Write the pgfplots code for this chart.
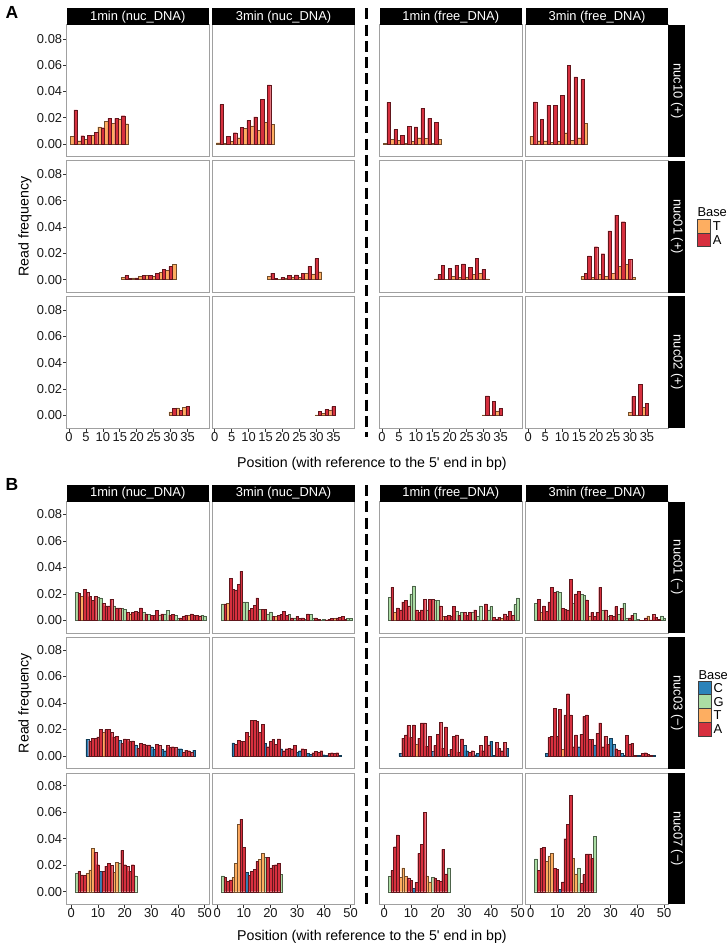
\documentclass[border=0pt]{standalone}
\usepackage{fontspec}
\setmainfont{Liberation Sans}
\usepackage{pgfplots}
\usepackage{pgfplotstable}
\pgfplotsset{compat=1.18}

\definecolor{baseC}{HTML}{2B83BA}
\definecolor{baseG}{HTML}{ABDDA4}
\definecolor{baseT}{HTML}{FDAE61}
\definecolor{baseA}{HTML}{D7303F}
\definecolor{framegray}{HTML}{A0A0A0}

% b: 1 = C, 2 = G, 3 = T, 4 = A
% v1 = 1min (nuc_DNA), v2 = 3min (nuc_DNA), v3 = 1min (free_DNA), v4 = 3min (free_DNA)
\pgfplotstableread{
p b v1 v2 v3 v4
1 3 0.0056 0.0010 0.0003 0.0060
2 4 0.0260 0.0300 0.0316 0.0320
3 3 0.0025 0.0005 0.0035 0.0025
4 4 0.0063 0.0060 0.0110 0.0187
5 3 0.0035 0.0018 0.0028 0.0025
6 4 0.0066 0.0086 0.0066 0.0296
7 3 0.0066 0.0048 0.0003 0.0013
8 4 0.0090 0.0127 0.0134 0.0296
9 3 0.0130 0.0120 0.0020 0.0023
10 4 0.0124 0.0180 0.0130 0.0370
11 3 0.0170 0.0137 0.0048 0.0086
12 4 0.0195 0.0207 0.0270 0.0600
13 3 0.0157 0.0104 0.0043 0.0030
14 4 0.0195 0.0340 0.0195 0.0510
15 3 0.0190 0.0165 0.0003 0.0048
16 4 0.0215 0.0450 0.0165 0.0490
17 3 0.0154 0.0150 0.0035 0.0157
}\aOne
\pgfplotstableread{
p b v1 v2 v3 v4
16 3 0.0015 0.0026 0.0005 0.0023
17 4 0.0030 0.0050 0.0040 0.0050
18 4 0.0010 0.0010 0.0108 0.0180
19 3 0.0013 0.0003 0.0003 0.0018
20 4 0.0013 0.0015 0.0087 0.0250
21 3 0.0023 0.0013 0.0023 0.0038
22 4 0.0030 0.0030 0.0110 0.0197
23 3 0.0030 0.0020 0.0015 0.0026
24 4 0.0030 0.0036 0.0120 0.0370
25 3 0.0023 0.0015 0.0020 0.0046
26 4 0.0050 0.0050 0.0092 0.0490
27 3 0.0056 0.0046 0.0038 0.0100
28 4 0.0077 0.0100 0.0160 0.0440
29 3 0.0072 0.0044 0.0050 0.0115
30 4 0.0100 0.0160 0.0077 0.0156
31 3 0.0115 0.0060 0.0005 0.0018
}\aTwo
\pgfplotstableread{
p b v1 v2 v3 v4
30 3 0.0025 0.0003 0.0003 0.0023
31 4 0.0050 0.0030 0.0147 0.0144
32 3 0.0056 0.0015 0.0003 0.0003
33 4 0.0038 0.0043 0.0104 0.0235
34 3 0.0060 0.0040 0.0033 0.0060
35 4 0.0068 0.0066 0.0050 0.0090
}\aThree

\pgfplotstableread{
p b v1 v2 v3 v4
2 2 0.0210 0.0125 0.0175 0.0130
3 4 0.0205 0.0125 0.0250 0.0160
4 3 0.0180 0.0130 0.0060 0.0060
5 4 0.0235 0.0320 0.0095 0.0110
6 4 0.0210 0.0235 0.0080 0.0070
7 4 0.0180 0.0230 0.0140 0.0140
8 4 0.0150 0.0270 0.0150 0.0250
9 4 0.0180 0.0370 0.0110 0.0210
10 2 0.0175 0.0140 0.0200 0.0220
11 2 0.0170 0.0140 0.0260 0.0210
12 4 0.0130 0.0075 0.0080 0.0090
13 4 0.0110 0.0090 0.0060 0.0085
14 4 0.0110 0.0115 0.0080 0.0080
15 4 0.0160 0.0170 0.0160 0.0310
16 2 0.0110 0.0085 0.0080 0.0130
17 4 0.0095 0.0085 0.0160 0.0200
18 4 0.0095 0.0085 0.0160 0.0220
19 2 0.0090 0.0050 0.0150 0.0195
20 2 0.0085 0.0065 0.0150 0.0190
21 4 0.0060 0.0030 0.0110 0.0155
22 3 0.0050 0.0030 0.0030 0.0035
23 4 0.0060 0.0040 0.0030 0.0060
24 4 0.0070 0.0045 0.0040 0.0030
25 4 0.0060 0.0070 0.0035 0.0060
26 4 0.0095 0.0040 0.0105 0.0250
27 2 0.0060 0.0045 0.0070 0.0075
28 4 0.0050 0.0020 0.0040 0.0080
29 2 0.0045 0.0020 0.0060 0.0030
30 4 0.0040 0.0030 0.0060 0.0040
31 4 0.0040 0.0015 0.0040 0.0030
32 4 0.0075 0.0020 0.0060 0.0105
33 2 0.0040 0.0010 0.0060 0.0045
34 4 0.0050 0.0050 0.0080 0.0090
35 2 0.0050 0.0045 0.0030 0.0130
36 2 0.0075 0.0015 0.0110 0.0015
37 4 0.0040 0.0020 0.0005 0.0020
38 4 0.0045 0.0010 0.0125 0.0040
39 2 0.0040 0.0005 0.0080 0.0055
40 2 0.0015 0.0010 0.0105 0.0010
41 4 0.0020 0.0005 0.0025 0.0003
42 4 0.0030 0.0010 0.0010 0.0003
43 4 0.0040 0.0015 0.0025 0.0020
44 3 0.0040 0.0015 0.0015 0.0035
45 4 0.0050 0.0020 0.0050 0.0005
46 4 0.0040 0.0025 0.0030 0.0045
47 4 0.0040 0.0030 0.0070 0.0025
48 4 0.0035 0.0010 0.0040 0.0010
49 2 0.0040 0.0015 0.0120 0.0035
50 2 0.0035 0.0015 0.0170 0.0020
}\bOne
\pgfplotstableread{
p b v1 v2 v3 v4
6 1 0.0127 0.0100 0.0020 0.0020
7 4 0.0115 0.0090 0.0135 0.0140
8 4 0.0135 0.0120 0.0160 0.0150
9 4 0.0135 0.0110 0.0230 0.0360
10 4 0.0145 0.0110 0.0140 0.0150
11 4 0.0200 0.0180 0.0235 0.0350
12 3 0.0180 0.0150 0.0090 0.0050
13 4 0.0200 0.0270 0.0135 0.0310
14 4 0.0200 0.0270 0.0250 0.0470
15 4 0.0180 0.0260 0.0250 0.0310
16 4 0.0145 0.0180 0.0075 0.0070
17 4 0.0150 0.0240 0.0150 0.0160
18 1 0.0120 0.0095 0.0035 0.0070
19 4 0.0095 0.0070 0.0080 0.0165
20 4 0.0130 0.0110 0.0165 0.0300
21 4 0.0125 0.0125 0.0255 0.0310
22 4 0.0110 0.0090 0.0060 0.0125
23 4 0.0115 0.0130 0.0220 0.0125
24 1 0.0085 0.0055 0.0015 0.0085
25 4 0.0060 0.0040 0.0050 0.0170
26 4 0.0095 0.0055 0.0150 0.0250
27 4 0.0090 0.0060 0.0160 0.0070
28 4 0.0085 0.0055 0.0030 0.0150
29 4 0.0085 0.0080 0.0130 0.0090
30 1 0.0070 0.0030 0.0080 0.0135
31 1 0.0050 0.0040 0.0040 0.0090
32 4 0.0090 0.0055 0.0030 0.0055
33 4 0.0080 0.0050 0.0040 0.0045
34 1 0.0050 0.0020 0.0010 0.0020
35 1 0.0040 0.0015 0.0020 0.0003
36 4 0.0080 0.0025 0.0080 0.0155
37 4 0.0065 0.0035 0.0040 0.0090
38 4 0.0070 0.0030 0.0150 0.0095
39 4 0.0065 0.0040 0.0085 0.0003
40 1 0.0055 0.0010 0.0110 0.0003
41 1 0.0055 0.0005 0.0003 0.0003
42 4 0.0030 0.0020 0.0105 0.0020
43 4 0.0045 0.0025 0.0060 0.0025
44 4 0.0040 0.0020 0.0040 0.0015
45 4 0.0030 0.0025 0.0105 0.0003
46 1 0.0045 0.0005 0.0060 0.0005
}\bTwo
\pgfplotstableread{
p b v1 v2 v3 v4
2 2 0.0141 0.0120 0.0116 0.0247
3 4 0.0153 0.0110 0.0160 0.0160
4 4 0.0128 0.0080 0.0340 0.0330
5 4 0.0126 0.0090 0.0430 0.0335
6 3 0.0138 0.0110 0.0110 0.0230
7 3 0.0164 0.0215 0.0180 0.0270
8 3 0.0327 0.0510 0.0115 0.0290
9 4 0.0297 0.0546 0.0105 0.0175
10 4 0.0204 0.0335 0.0085 0.0170
11 1 0.0156 0.0146 0.0030 0.0020
12 4 0.0156 0.0126 0.0070 0.0075
13 4 0.0194 0.0156 0.0290 0.0400
14 4 0.0214 0.0170 0.0360 0.0510
15 4 0.0201 0.0230 0.0600 0.0730
16 3 0.0146 0.0244 0.0120 0.0250
17 3 0.0221 0.0290 0.0075 0.0135
18 2 0.0214 0.0260 0.0110 0.0180
19 4 0.0312 0.0260 0.0105 0.0065
20 4 0.0204 0.0180 0.0085 0.0130
21 4 0.0194 0.0200 0.0080 0.0285
22 4 0.0156 0.0204 0.0320 0.0285
23 4 0.0204 0.0216 0.0135 0.0250
24 2 0.0121 0.0130 0.0180 0.0420
}\bThree

\newcommand\fs[1]{\fontsize{#1}{#1}\selectfont}

\pgfplotsset{
  facet/.style={
    scale only axis, anchor=north west, width=142.5pt,
    axis line style={draw=framegray, line width=1pt},
    xtick=\empty, ytick=\empty,
    tick align=outside, major tick length=3.4pt,
    tick style={draw=black!80, line width=0.6pt},
    tick pos=left,
    ticklabel style={font=\fs{12.9}, text=black!90},
    /pgf/number format/assume math mode=true,
    scaled y ticks=false,
    yticklabel style={inner sep=0.8pt, /pgf/number format/.cd, fixed, fixed zerofill, precision=2},
    xticklabel style={inner sep=0.8pt},
  },
  facetA/.style={facet, height=132pt, xmin=-0.7, xmax=41.3, ymin=-0.0099, ymax=0.0905},
  facetB/.style={facet, height=131.3pt, xmin=-1.8, xmax=51.6, ymin=-0.0095, ymax=0.0896},
  leftcol/.style={ytick={0,0.02,0.04,0.06,0.08}},
  bottomA/.style={xtick={0,5,10,15,20,25,30,35}},
  bottomB/.style={xtick={0,10,20,30,40,50}},
  nbar/.style={ybar, bar width=1, bar shift=0pt, fill=#1, draw=#1!45!black, line width=0.3pt},
}

\newcommand\barsTA[2]{%
  \addplot[nbar=baseT] table[x=p, y expr={\thisrow{b}==3 ? \thisrow{#2} : nan}] {#1};
  \addplot[nbar=baseA] table[x=p, y expr={\thisrow{b}==4 ? \thisrow{#2} : nan}] {#1};
}
\newcommand\barsAll[2]{%
  \addplot[nbar=baseC] table[x=p, y expr={\thisrow{b}==1 ? \thisrow{#2} : nan}] {#1};
  \addplot[nbar=baseG] table[x=p, y expr={\thisrow{b}==2 ? \thisrow{#2} : nan}] {#1};
  \barsTA{#1}{#2}
}
\newcommand\facet[6]{%
  \begin{axis}[#1, at={(#2pt,-#3pt)}]
  #4{#5}{#6}
  \end{axis}}
\newcommand\topstrip[3]{%
  \fill[black] (#1pt,-#2pt) rectangle ++(142.5pt,-16.7pt);
  \node[text=white, font=\fs{12.9}, inner sep=0pt] at (#1pt+71.25pt,-#2pt-8.6pt) {#3};}
\newcommand\sidestrip[3]{%
  \fill[black] (668.3pt,-#1pt) rectangle (685pt,-#1pt-#2pt);
  \node[text=white, font=\fs{12.9}, inner sep=0pt, rotate=-90] at (676.9pt,-#1pt-#2pt/2) {#3};}

\begin{document}
\begin{tikzpicture}
\useasboundingbox (0,0) rectangle (727pt,-944pt);

% ---------------- panel A ----------------
\facet{facetA,leftcol}{66.5}{25}{\barsTA}{\aOne}{v1}
\facet{facetA}{212.3}{25}{\barsTA}{\aOne}{v2}
\facet{facetA}{379.5}{25}{\barsTA}{\aOne}{v3}
\facet{facetA}{525.8}{25}{\barsTA}{\aOne}{v4}
\facet{facetA,leftcol}{66.5}{160.6}{\barsTA}{\aTwo}{v1}
\facet{facetA}{212.3}{160.6}{\barsTA}{\aTwo}{v2}
\facet{facetA}{379.5}{160.6}{\barsTA}{\aTwo}{v3}
\facet{facetA}{525.8}{160.6}{\barsTA}{\aTwo}{v4}
\facet{facetA,leftcol,bottomA}{66.5}{296.2}{\barsTA}{\aThree}{v1}
\facet{facetA,bottomA}{212.3}{296.2}{\barsTA}{\aThree}{v2}
\facet{facetA,bottomA}{379.5}{296.2}{\barsTA}{\aThree}{v3}
\facet{facetA,bottomA}{525.8}{296.2}{\barsTA}{\aThree}{v4}

\topstrip{66.5}{8.3}{1min (nuc\_DNA)}
\topstrip{212.3}{8.3}{3min (nuc\_DNA)}
\topstrip{379.5}{8.3}{1min (free\_DNA)}
\topstrip{525.8}{8.3}{3min (free\_DNA)}
\sidestrip{25}{132}{nuc10 (+)}
\sidestrip{160.6}{132}{nuc01 (+)}
\sidestrip{296.2}{132}{nuc02 (+)}

\draw[line width=3.3pt, dash pattern=on 11pt off 5.3pt] (366.7pt,-8.3pt) -- (366.7pt,-437pt);
\node[font=\fs{17.5}\bfseries, anchor=base west, inner sep=0pt] at (5.5pt,-18.3pt) {A};
\node[font=\fs{14.2}, rotate=90, inner sep=0pt] at (25pt,-226.6pt) {Read frequency};
\node[font=\fs{14.2}, inner sep=0pt] at (372pt,-464pt) {Position (with reference to the 5\textquotesingle{} end in bp)};

\node[font=\fs{12.9}, anchor=base west, inner sep=0pt] at (697.3pt,-216.7pt) {Base};
\filldraw[fill=baseT, draw=black!75, line width=0.5pt] (697.5pt,-219.3pt) rectangle (710.5pt,-233pt);
\filldraw[fill=baseA, draw=black!75, line width=0.5pt] (697.5pt,-233pt) rectangle (710.5pt,-246.7pt);
\node[font=\fs{12.9}, anchor=base west, inner sep=0pt] at (712.7pt,-230.7pt) {T};
\node[font=\fs{12.9}, anchor=base west, inner sep=0pt] at (712.7pt,-244.4pt) {A};

% ---------------- panel B ----------------
\facet{facetB,leftcol}{66.5}{501.7}{\barsAll}{\bOne}{v1}
\facet{facetB}{212.3}{501.7}{\barsAll}{\bOne}{v2}
\facet{facetB}{379.5}{501.7}{\barsAll}{\bOne}{v3}
\facet{facetB}{525.8}{501.7}{\barsAll}{\bOne}{v4}
\facet{facetB,leftcol}{66.5}{637.3}{\barsAll}{\bTwo}{v1}
\facet{facetB}{212.3}{637.3}{\barsAll}{\bTwo}{v2}
\facet{facetB}{379.5}{637.3}{\barsAll}{\bTwo}{v3}
\facet{facetB}{525.8}{637.3}{\barsAll}{\bTwo}{v4}
\facet{facetB,leftcol,bottomB}{66.5}{773}{\barsAll}{\bThree}{v1}
\facet{facetB,bottomB}{212.3}{773}{\barsAll}{\bThree}{v2}
\facet{facetB,bottomB}{379.5}{773}{\barsAll}{\bThree}{v3}
\facet{facetB,bottomB}{525.8}{773}{\barsAll}{\bThree}{v4}

\topstrip{66.5}{485}{1min (nuc\_DNA)}
\topstrip{212.3}{485}{3min (nuc\_DNA)}
\topstrip{379.5}{485}{1min (free\_DNA)}
\topstrip{525.8}{485}{3min (free\_DNA)}
\sidestrip{501.7}{131.3}{nuc01 (−)}
\sidestrip{637.3}{131.3}{nuc03 (−)}
\sidestrip{773}{131.3}{nuc07 (−)}

\draw[line width=3.3pt, dash pattern=on 11pt off 5.3pt] (366.7pt,-485pt) -- (366.7pt,-906pt);
\node[font=\fs{17.5}\bfseries, anchor=base west, inner sep=0pt] at (5.5pt,-490.7pt) {B};
\node[font=\fs{14.2}, rotate=90, inner sep=0pt] at (25pt,-703pt) {Read frequency};
\node[font=\fs{14.2}, inner sep=0pt] at (372pt,-936.5pt) {Position (with reference to the 5\textquotesingle{} end in bp)};

\node[font=\fs{12.9}, anchor=base west, inner sep=0pt] at (698.3pt,-679.3pt) {Base};
\filldraw[fill=baseC, draw=black!75, line width=0.5pt] (698.5pt,-681pt) rectangle (711pt,-694.7pt);
\filldraw[fill=baseG, draw=black!75, line width=0.5pt] (698.5pt,-694.7pt) rectangle (711pt,-708.4pt);
\filldraw[fill=baseT, draw=black!75, line width=0.5pt] (698.5pt,-708.4pt) rectangle (711pt,-722.1pt);
\filldraw[fill=baseA, draw=black!75, line width=0.5pt] (698.5pt,-722.1pt) rectangle (711pt,-735.8pt);
\node[font=\fs{12.9}, anchor=base west, inner sep=0pt] at (713.3pt,-692.5pt) {C};
\node[font=\fs{12.9}, anchor=base west, inner sep=0pt] at (713.3pt,-706.2pt) {G};
\node[font=\fs{12.9}, anchor=base west, inner sep=0pt] at (713.3pt,-719.9pt) {T};
\node[font=\fs{12.9}, anchor=base west, inner sep=0pt] at (713.3pt,-733.6pt) {A};
\end{tikzpicture}
\end{document}
